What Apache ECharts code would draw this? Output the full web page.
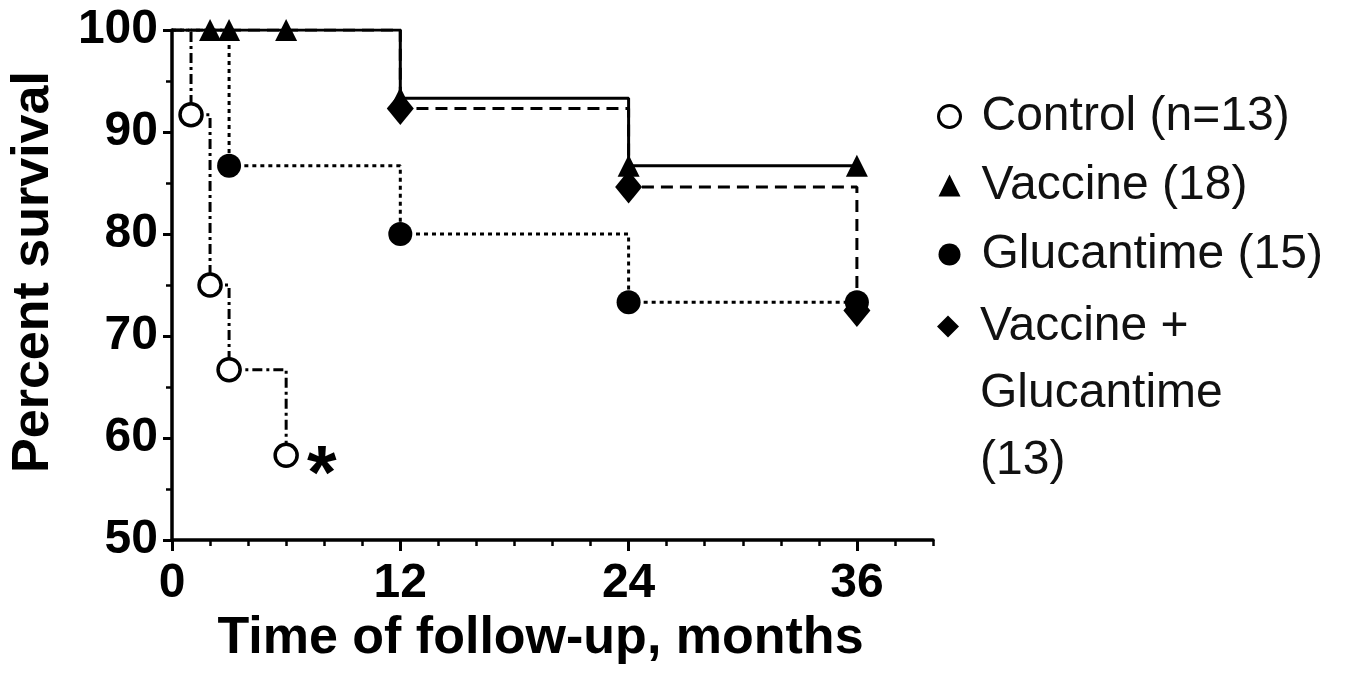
<!doctype html>
<html>
    <head>
        <meta charset="utf-8">
        <style>
            html, body { margin: 0; padding: 0; background: #fff; }
            #main { width: 1352px; height: 677px; }
        </style>
    </head>
    <body>
        <div id="main"></div>
        <script src="https://cdn.jsdelivr.net/npm/echarts@6/dist/echarts.min.js"></script>
        <script>
            var chart = echarts.init(document.getElementById('main'));

            // Kaplan-Meier steps: months of follow-up and percent survival
            var controlMonths = [0, 1, 2, 3, 6];
            var controlSurvival = [100, 91.7, 75, 66.7, 58.3];
            var vaccineMonths = [0, 2, 3, 6, 12, 24, 36];
            var vaccineSurvival = [100, 100, 100, 100, 93.3, 86.7, 86.7];
            var glucMonths = [0, 3, 12, 24, 36];
            var glucSurvival = [100, 86.7, 80, 73.3, 73.3];
            var comboMonths = [0, 12, 24, 36];
            var comboSurvival = [100, 92.3, 84.6, 72.5];

            var names = ['Control (n=13)', 'Vaccine (18)', 'Glucantime (15)', 'Vaccine + Glucantime (13)'];
            var xTickLabels = [0, 12, 24, 36];

            var font = 'Liberation Sans';

            function steps(months, surv, lastLabel) {
                var data = [];
                for (var i = 0; i < months.length; i++) {
                    var item = { value: [months[i], surv[i]] };
                    if (i === 0) item.symbol = 'none';
                    if (lastLabel && i === months.length - 1) {
                        item.label = {
                            show: true, formatter: lastLabel, position: 'right',
                            distance: 8, offset: [0, 22],
                            fontFamily: font, fontWeight: 'bold', fontSize: 76, color: '#000'
                        };
                    }
                    data.push(item);
                }
                return data;
            }

            function line(name, data, type, symbol, size, fill) {
                return {
                    name: name,
                    type: 'line',
                    step: 'end',
                    data: data,
                    symbol: symbol,
                    symbolSize: size,
                    showAllSymbol: true,
                    lineStyle: { color: '#000', width: 3, type: type },
                    itemStyle: { color: fill, borderColor: '#000', borderWidth: fill === '#fff' ? 3.5 : 0 },
                    emphasis: { disabled: true },
                    animation: false
                };
            }

            var legendText = { fontFamily: font, fontSize: 48, color: '#111', lineHeight: 67, padding: [0, 0, 0, 16] };

            chart.setOption({
                backgroundColor: '#fff',
                grid: { left: 172, right: 419, top: 30, bottom: 137 },
                legend: [{
                    orient: 'vertical', left: 932, top: 78, itemGap: 2,
                    itemWidth: 22, itemHeight: 22, selectedMode: false,
                    textStyle: legendText,
                    data: [
                        { name: names[0], icon: 'circle', itemStyle: { color: '#fff', borderColor: '#000', borderWidth: 3 } },
                        { name: names[1], icon: 'triangle', itemStyle: { color: '#000', borderWidth: 0 } },
                        { name: names[2], icon: 'circle', itemStyle: { color: '#000', borderWidth: 0 } }
                    ]
                }, {
                    // two empty lines on top keep the icon level with "Vaccine +"
                    orient: 'vertical', left: 932, top: 154,
                    itemWidth: 22, itemHeight: 22, selectedMode: false,
                    formatter: function () { return ' \n \nVaccine +\nGlucantime\n(13)'; },
                    textStyle: legendText,
                    data: [
                        { name: names[3], icon: 'diamond', itemStyle: { color: '#000', borderWidth: 0 } }
                    ]
                }],
                xAxis: [{
                    type: 'value', min: 0, max: 40, interval: 2,
                    name: 'Time of follow-up, months', nameLocation: 'middle', nameGap: 66,
                    nameTextStyle: { fontFamily: font, fontWeight: 'bold', fontSize: 52, color: '#000', padding: [0, 24, 0, 0] },
                    axisLine: { show: true, lineStyle: { color: '#000', width: 3.5 } },
                    axisTick: { show: true, length: 6, lineStyle: { color: '#000', width: 2.5 } },
                    axisLabel: {
                        show: true, margin: 20, fontFamily: font, fontWeight: 'bold', fontSize: 48, color: '#000',
                        formatter: function (v) { return xTickLabels.indexOf(v) >= 0 ? String(v) : ''; }
                    },
                    splitLine: { show: false }
                }, {
                    type: 'value', min: 0, max: 40, interval: 12, position: 'bottom',
                    axisLine: { show: false },
                    axisTick: { show: true, length: 11, customValues: xTickLabels, lineStyle: { color: '#000', width: 3 } },
                    axisLabel: { show: false },
                    splitLine: { show: false }
                }],
                yAxis: {
                    type: 'value', min: 50, max: 100, interval: 10,
                    name: 'Percent survival', nameLocation: 'middle', nameGap: 112,
                    nameTextStyle: { fontFamily: font, fontWeight: 'bold', fontSize: 52, color: '#000', padding: [0, 0, 0, 26] },
                    axisLine: { show: true, lineStyle: { color: '#000', width: 3.5 } },
                    axisTick: { show: true, length: 9, lineStyle: { color: '#000', width: 3 } },
                    minorTick: { show: true, splitNumber: 2, length: 6, lineStyle: { color: '#000', width: 2.5 } },
                    axisLabel: { margin: 14, fontFamily: font, fontWeight: 'bold', fontSize: 48, color: '#000' },
                    splitLine: { show: false }
                },
                series: [
                    line(names[0], steps(controlMonths, controlSurvival, '*'), [10, 4, 3, 4], 'circle', 22, '#fff'),
                    line(names[2], steps(glucMonths, glucSurvival), [4, 4], 'circle', 24, '#000'),
                    line(names[1], steps(vaccineMonths, vaccineSurvival), 'solid', 'triangle', 22, '#000'),
                    line(names[3], steps(comboMonths, comboSurvival), [12, 7], 'diamond', [27, 33], '#000')
                ]
            });

            window.onresize = chart.resize;
        </script>
    </body>
</html>
